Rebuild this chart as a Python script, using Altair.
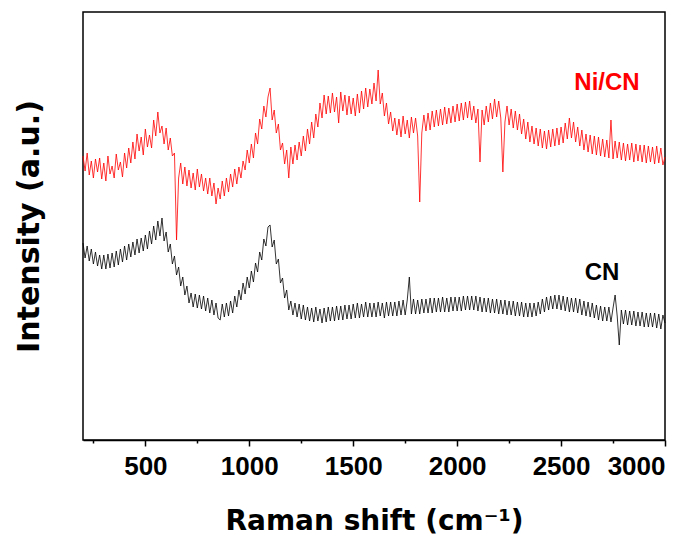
import altair as alt
import pandas as pd

# Raman shift grid (cm^-1)
wavenumber = list(range(200, 3001, 10))

# Ni/CN intensity (a.u.)
ni_cn = [
    284, 269, 287, 265, 279, 262, 281, 268, 282, 261,
    277, 259, 284, 266, 274, 262, 286, 270, 278, 263,
    287, 272, 292, 277, 298, 281, 306, 289, 303, 285,
    311, 293, 305, 292, 320, 304, 328, 307, 314, 296,
    312, 290, 302, 284, 287, 200, 262, 277, 256, 273,
    254, 270, 252, 267, 250, 271, 253, 266, 249, 262,
    246, 262, 244, 257, 236, 252, 241, 259, 244, 262,
    248, 266, 253, 271, 256, 273, 262, 279, 270, 290,
    277, 296, 282, 307, 296, 321, 311, 334, 323, 343,
    352, 320, 330, 307, 316, 290, 297, 276, 290, 262,
    293, 276, 295, 280, 298, 284, 304, 289, 311, 296,
    318, 302, 326, 313, 337, 322, 345, 326, 344, 327,
    347, 328, 343, 317, 348, 329, 345, 325, 344, 326,
    342, 324, 346, 327, 349, 331, 352, 333, 351, 336,
    357, 339, 370, 336, 347, 324, 337, 316, 328, 309,
    322, 305, 321, 303, 324, 306, 320, 302, 323, 307,
    322, 304, 238, 307, 325, 309, 327, 310, 329, 313,
    330, 314, 331, 315, 333, 316, 332, 317, 334, 318,
    336, 319, 337, 320, 338, 322, 339, 320, 334, 317,
    331, 278, 330, 315, 334, 318, 337, 321, 341, 323,
    339, 322, 268, 318, 334, 315, 331, 312, 329, 310,
    326, 306, 321, 301, 318, 298, 314, 296, 312, 294,
    311, 292, 309, 291, 310, 293, 311, 294, 312, 295,
    313, 297, 317, 301, 322, 302, 318, 298, 313, 294,
    310, 290, 306, 288, 305, 286, 304, 285, 303, 284,
    301, 283, 300, 282, 320, 281, 299, 282, 298, 280,
    297, 279, 296, 280, 297, 278, 296, 279, 295, 278,
    295, 277, 294, 278, 293, 276, 294, 277, 292, 275,
    283,
]

# CN intensity (a.u.)
cn = [
    197, 182, 194, 179, 191, 176, 188, 174, 185, 171,
    185, 171, 186, 172, 187, 173, 189, 175, 191, 178,
    194, 180, 196, 183, 198, 185, 201, 187, 202, 189,
    205, 191, 209, 196, 214, 200, 219, 204, 222, 199,
    208, 188, 196, 176, 184, 165, 173, 154, 163, 145,
    154, 137, 147, 133, 146, 132, 145, 131, 144, 129,
    142, 127, 140, 125, 137, 122, 120, 136, 123, 137,
    124, 139, 127, 144, 133, 150, 140, 157, 146, 163,
    152, 169, 158, 177, 168, 188, 180, 201, 194, 213,
    215, 193, 200, 176, 181, 157, 162, 142, 150, 130,
    139, 125, 137, 123, 136, 121, 135, 120, 133, 119,
    132, 118, 133, 119, 131, 117, 132, 118, 133, 119,
    133, 119, 134, 120, 134, 120, 135, 121, 135, 121,
    136, 122, 137, 122, 136, 123, 138, 123, 137, 123,
    137, 123, 138, 124, 137, 122, 138, 124, 138, 124,
    138, 124, 139, 125, 140, 125, 140, 163, 126, 141,
    126, 140, 126, 141, 127, 141, 127, 142, 127, 142,
    128, 142, 128, 143, 128, 142, 128, 143, 129, 143,
    129, 143, 129, 144, 130, 144, 130, 144, 130, 144,
    129, 143, 128, 142, 128, 142, 127, 141, 127, 141,
    126, 140, 126, 140, 125, 139, 125, 139, 124, 138,
    124, 138, 123, 137, 123, 137, 123, 137, 124, 138,
    126, 141, 128, 143, 130, 144, 131, 145, 131, 145,
    130, 144, 129, 143, 128, 142, 128, 142, 127, 141,
    125, 139, 124, 138, 123, 137, 122, 135, 120, 134,
    119, 133, 119, 133, 118, 132, 145, 124, 95, 130,
    116, 130, 115, 129, 115, 129, 114, 128, 114, 128,
    113, 127, 113, 127, 113, 127, 112, 126, 111, 125,
    117,
]

series_names = ["Ni/CN", "CN"]
series_colors = ["#ff0000", "#000000"]
label_x = [2721, 2697]
label_y = [357, 167]
tick_values = list(range(250, 3001, 250))

df = pd.DataFrame({
    "w": wavenumber * 2,
    "I": ni_cn + cn,
    "s": [series_names[0]] * len(ni_cn) + [series_names[1]] * len(cn),
})
labels = pd.DataFrame({"w": label_x, "I": label_y, "s": series_names})

FONT = "Liberation Sans"
TITLE_FONT = "DejaVu Sans"

x_scale = alt.Scale(domain=[200, 3000], nice=False, zero=False)
y_scale = alt.Scale(domain=[0, 428], nice=False, zero=False)
color_scale = alt.Scale(domain=series_names, range=series_colors)

x_axis = alt.Axis(
    title="Raman shift (cm⁻¹)",
    values=tick_values,
    labelExpr="datum.value % 500 == 0 ? datum.label : ''",
    format="d",
    grid=False,
    tickSize={"condition": {"test": "datum.value % 500 != 0", "value": 3}, "value": 6},
    tickColor="black",
    tickWidth=1.5,
    domainColor="black",
    domainWidth=1.5,
    labelFont=FONT,
    labelFontSize=26,
    labelFontWeight="bold",
    labelColor="black",
    labelPadding=7,
    titleFont=TITLE_FONT,
    titleFontSize=28,
    titleFontWeight="bold",
    titleColor="black",
    titlePadding=28,
)
y_axis = alt.Axis(
    title="Intensity (a.u.)",
    labels=False,
    ticks=False,
    domain=False,
    grid=False,
    titleFont=TITLE_FONT,
    titleFontSize=30,
    titleFontWeight="bold",
    titleColor="black",
    titlePadding=39,
)

lines = alt.Chart(df).mark_line(strokeWidth=0.8).encode(
    x=alt.X("w:Q", scale=x_scale, axis=x_axis),
    y=alt.Y("I:Q", scale=y_scale, axis=y_axis),
    color=alt.Color("s:N", scale=color_scale, legend=None),
    order=alt.Order("w:Q"),
)

texts = alt.Chart(labels).mark_text(
    font=FONT, fontSize=24, fontWeight="bold", baseline="middle", align="center"
).encode(
    x=alt.X("w:Q", scale=x_scale),
    y=alt.Y("I:Q", scale=y_scale),
    text="s:N",
    color=alt.Color("s:N", scale=color_scale, legend=None),
)

chart = alt.layer(lines, texts).properties(
    width=582,
    height=428,
    background="white",
    autosize=alt.AutoSizeParams(type="none"),
    padding={"left": 75, "top": 4, "right": 25, "bottom": 95},
).configure_view(
    stroke="black", strokeWidth=1.5
)

chart.save("out.html", embed_options={"renderer": "svg", "actions": False})
